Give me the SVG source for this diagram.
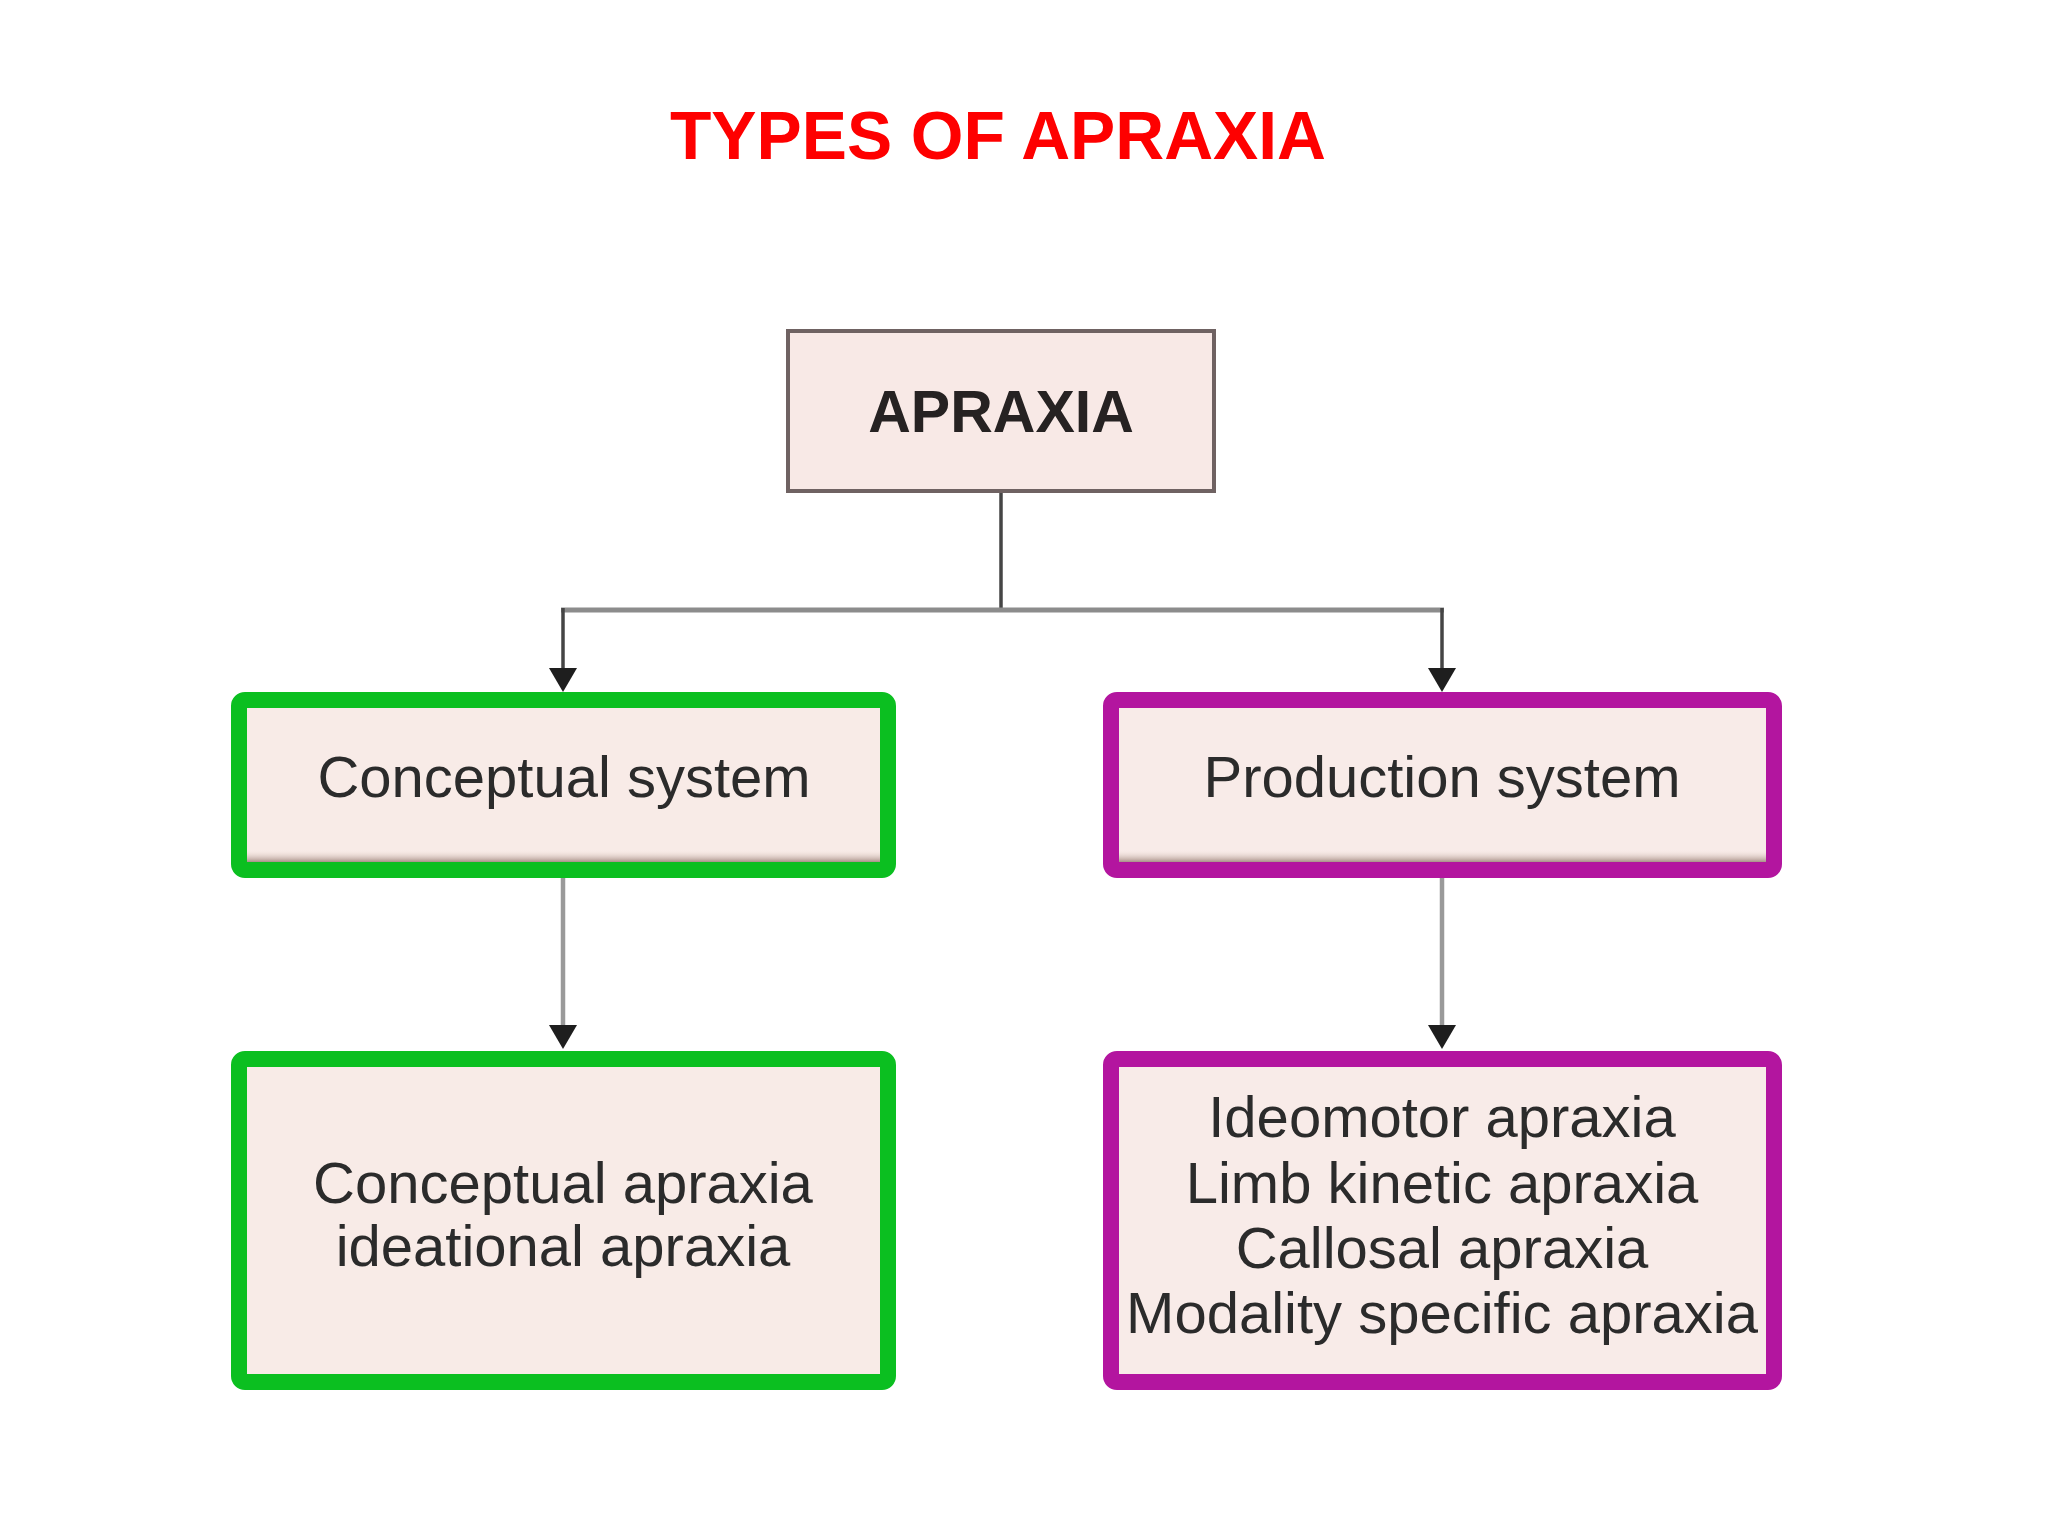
<svg xmlns="http://www.w3.org/2000/svg" width="2048" height="1536" viewBox="0 0 2048 1536">
  <style>
    .lbl { font-family: "Liberation Sans", Arial, sans-serif; font-size: 58px; fill: #2b2b2b; text-anchor: middle; }
    .title { font-family: "Liberation Sans", Arial, sans-serif; font-weight: bold; font-size: 69px; fill: #fe0000; text-anchor: middle; }
    .root-box { fill: #f8e9e6; stroke: #6f6262; stroke-width: 4; }
    .green { fill: #f8ebe7; stroke: #0bbf20; stroke-width: 16; }
    .purple { fill: #f8ebe8; stroke: #b3159f; stroke-width: 16; }
    .conn-dark { stroke: #454545; stroke-width: 3.5; fill: none; }
    .conn-gray { stroke: #8c8c8c; stroke-width: 5; fill: none; }
    .conn-light { stroke: #9a9a9a; stroke-width: 4.5; fill: none; }
  </style>
  <defs>
    <marker id="arrow" markerUnits="userSpaceOnUse" markerWidth="24" markerHeight="28" viewBox="0 0 24 28" refX="0" refY="14" orient="auto">
      <path d="M0,0 L24,14 L0,28 Z" fill="#1e1e1e"/>
    </marker>
    <linearGradient id="band" x1="0" y1="0" x2="0" y2="1">
      <stop offset="0" stop-color="#f5e6df" stop-opacity="0"/>
      <stop offset="1" stop-color="#a89088"/>
    </linearGradient>
  </defs>
  <rect width="2048" height="1536" fill="#ffffff"/>

  <g id="title">
    <text class="title" x="998" y="159" textLength="656" lengthAdjust="spacingAndGlyphs">TYPES OF APRAXIA</text>
  </g>

  <g id="connectors">
    <line class="conn-dark" x1="1001" y1="493" x2="1001" y2="610"/>
    <line class="conn-gray" x1="561" y1="610" x2="1444" y2="610"/>
    <line class="conn-dark" x1="563" y1="608" x2="563" y2="668" marker-end="url(#arrow)"/>
    <line class="conn-dark" x1="1442" y1="608" x2="1442" y2="668" marker-end="url(#arrow)"/>
    <line class="conn-light" x1="563" y1="878" x2="563" y2="1025" marker-end="url(#arrow)"/>
    <line class="conn-light" x1="1442" y1="878" x2="1442" y2="1025" marker-end="url(#arrow)"/>
  </g>

  <g id="apraxia">
    <rect class="root-box" x="788" y="331" width="426" height="160"/>
    <text class="lbl" x="1001" y="432" style="font-weight:bold;font-size:59px;fill:#262222">APRAXIA</text>
  </g>

  <g id="conceptual-system">
    <rect class="green" x="239" y="700" width="649" height="170" rx="6"/>
    <rect x="247" y="850" width="633" height="12" fill="url(#band)"/>
    <text class="lbl" x="564" y="797">Conceptual system</text>
  </g>

  <g id="production-system">
    <rect class="purple" x="1111" y="700" width="663" height="170" rx="6"/>
    <rect x="1119" y="850" width="647" height="12" fill="url(#band)"/>
    <text class="lbl" x="1442" y="797">Production system</text>
  </g>

  <g id="conceptual-types">
    <rect class="green" x="239" y="1059" width="649" height="323" rx="6"/>
    <text class="lbl" x="563" y="1203">Conceptual apraxia</text>
    <text class="lbl" x="563" y="1266">ideational apraxia</text>
  </g>

  <g id="production-types">
    <rect class="purple" x="1111" y="1059" width="663" height="323" rx="6"/>
    <text class="lbl" x="1442" y="1137">Ideomotor apraxia</text>
    <text class="lbl" x="1442" y="1203">Limb kinetic apraxia</text>
    <text class="lbl" x="1442" y="1268">Callosal apraxia</text>
    <text class="lbl" x="1442" y="1333">Modality specific apraxia</text>
  </g>
</svg>
